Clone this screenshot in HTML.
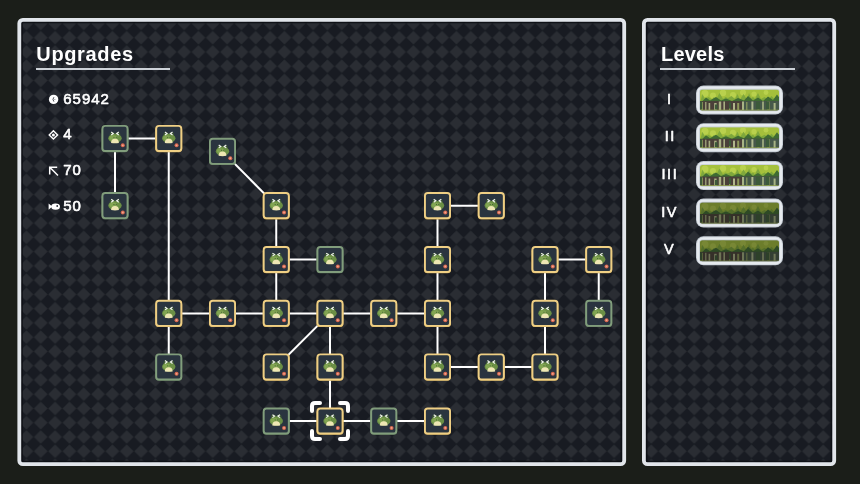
<!DOCTYPE html>
<html><head><meta charset="utf-8"><title>Upgrades</title>
<style>
html,body{margin:0;padding:0;background:#1b1e19;}
body{width:860px;height:484px;overflow:hidden;font-family:"Liberation Sans",sans-serif;}
svg{display:block;will-change:transform;transform:translateZ(0);}
text{font-family:"Liberation Sans",sans-serif;font-weight:normal;fill:#fff;stroke:#fff;stroke-width:0.6px;stroke-linejoin:round;}
</style></head><body>
<svg width="860" height="484" viewBox="0 0 860 484">
<defs>
<pattern id="chk" width="14.3333" height="14.2600" patternUnits="userSpaceOnUse" x="4.933" y="2.070">
<rect width="14.3333" height="14.2600" fill="#181b22"/>
<polygon points="7.1667,0.8556 13.4733,7.1300 7.1667,13.4044 0.8600,7.1300" fill="#2a2d33" stroke="#2a2d33" stroke-width="0.8" stroke-linejoin="round"/>
</pattern>
<pattern id="chk2" width="14.3333" height="14.2600" patternUnits="userSpaceOnUse" x="-0.967" y="2.070">
<rect width="14.3333" height="14.2600" fill="#181b22"/>
<polygon points="7.1667,0.8556 13.4733,7.1300 7.1667,13.4044 0.8600,7.1300" fill="#2a2d33" stroke="#2a2d33" stroke-width="0.8" stroke-linejoin="round"/>
</pattern>
<g id="frog">
<ellipse cx="-2.8" cy="-3.9" rx="2.5" ry="2.6" fill="#3a5233"/>
<ellipse cx="2.8" cy="-3.9" rx="2.5" ry="2.6" fill="#3a5233"/>
<ellipse cx="0" cy="-0.2" rx="6.7" ry="4.6" fill="#6b8f45"/>
<ellipse cx="-1.8" cy="-0.6" rx="3.8" ry="2.6" fill="#82a552"/>
<path d="M-3.9,4.4 Q-3.9,0.2 0,0.2 Q3.9,0.2 3.9,4.4 Q0,5.1 -3.9,4.4Z" fill="#eee7b4"/>
<path d="M-3.8,-6.4 L-1.7,-5 L-3.8,-3.5" fill="none" stroke="#f2f4f0" stroke-width="1.15"/>
<path d="M3.8,-6.4 L1.7,-5 L3.8,-3.5" fill="none" stroke="#f2f4f0" stroke-width="1.15"/>
<rect x="-1.5" y="-1.6" width="0.9" height="0.9" fill="#3c5632"/>
<rect x="0.8" y="-1.6" width="0.9" height="0.9" fill="#3c5632"/>
</g>
<g id="ng">
<rect x="-13.5" y="-12" width="27" height="25.7" rx="3.6" fill="#5d775a"/>
<rect x="-12.55" y="-12.65" width="25.1" height="25.1" rx="2.8" fill="#2a343f" stroke="#819d7c" stroke-width="1.9"/>
<use href="#frog"/>
<circle cx="7.8" cy="6.8" r="2" fill="#d96850"/><circle cx="7.8" cy="6.8" r="0.9" fill="#f2a890"/>
</g>
<g id="no">
<rect x="-13.5" y="-12" width="27" height="25.7" rx="3.6" fill="#c4a152"/>
<rect x="-12.55" y="-12.65" width="25.1" height="25.1" rx="2.8" fill="#2a343f" stroke="#efcf84" stroke-width="1.9"/>
<use href="#frog"/>
<circle cx="7.8" cy="6.8" r="2" fill="#d96850"/><circle cx="7.8" cy="6.8" r="0.9" fill="#f2a890"/>
</g>
<clipPath id="tc"><rect x="4" y="4" width="79" height="21" rx="2.5"/></clipPath>
<g id="thumb">
<rect x="0" y="0" width="87" height="29" rx="7.5" fill="#c3cad2"/>
<rect x="0.9" y="0.9" width="85.2" height="27.2" rx="6.6" fill="#e6eaee"/>
<rect x="3.2" y="3.2" width="80.6" height="22.6" rx="3.2" fill="#c5ccd4"/>
<g clip-path="url(#tc)">
<rect x="4" y="4" width="79" height="21" fill="#a5c03c"/>
<g fill="#b9d14d">
<circle cx="9" cy="8" r="3.5"/><circle cx="17" cy="10" r="3"/><circle cx="27" cy="7.5" r="3.2"/><circle cx="37" cy="9.5" r="3"/><circle cx="47" cy="7" r="3"/><circle cx="58" cy="8.5" r="2.6"/><circle cx="70" cy="7" r="2.4"/>
</g>
<path d="M4,17 L6.5,8.5 L9.0,13.5 L12.5,11.5 L16.0,14 L18.0,11.5 L20.0,14 L23.5,7.5 L27.0,13.5 L29.5,11.5 L32.0,12.5 L35.5,10.5 L39.0,13.5 L41.5,8.5 L44.0,14 L47.5,8.5 L51.0,14 L53.0,7.5 L55.0,12.5 L57.0,11.5 L59.0,13.5 L62.0,7.5 L65.0,13.5 L68.5,11.5 L72.0,14 L75.5,10.5 L79.0,14 L82.5,11.5 L86.0,12.5 L84,17Z" fill="#7fa83c"/>
<path d="M4,18 L10,12 L14,15 L20,11.5 L25,15 L30,13 L36,15.5 L42,12.5 L48,15 L52,10.5 L57,15 L62,12 L67,15.5 L72,11 L77,14.5 L81,9 L84,13 L84,18Z" fill="#3f6b33"/>
<rect x="4" y="15.6" width="79" height="9.4" fill="#4a4039"/>
<rect x="46" y="15.6" width="37" height="9.4" fill="#46584a"/>
<g opacity="0.85"><rect x="5.0" y="16.5" width="2.0" height="8.5" fill="#9aa862"/><rect x="9.2" y="16.5" width="1.2" height="8.5" fill="#b9c490"/><rect x="12.6" y="17.5" width="1.6" height="7.5" fill="#b9c490"/><rect x="18.2" y="17.5" width="2.4" height="7.5" fill="#b9c490"/><rect x="22.8" y="16.0" width="2.4" height="9" fill="#b9c490"/><rect x="27.4" y="16.0" width="1.6" height="9" fill="#b9c490"/><rect x="33.0" y="17.5" width="1.2" height="7.5" fill="#9aa862"/><rect x="37.0" y="17.5" width="2.0" height="7.5" fill="#c3cc9c"/><rect x="41.2" y="17.5" width="2.0" height="7.5" fill="#9aa862"/><rect x="46.0" y="16.0" width="2.0" height="9" fill="#b9c490"/><rect x="50.2" y="16.5" width="1.2" height="8.5" fill="#9aa862"/><rect x="55.4" y="16.0" width="2.0" height="9" fill="#c3cc9c"/><rect x="61.4" y="17.5" width="2.0" height="7.5" fill="#869852"/><rect x="66.2" y="16.0" width="1.6" height="9" fill="#b9c490"/><rect x="71.2" y="16.0" width="2.4" height="9" fill="#869852"/><rect x="77.6" y="17.5" width="2.0" height="7.5" fill="#b9c490"/></g>
<g fill="#3c5a3a"><rect x="4" y="16" width="2.2" height="8"/><rect x="19" y="19" width="2.5" height="5"/><rect x="33" y="17" width="2" height="6"/><rect x="60" y="16" width="4" height="8"/><rect x="70" y="16" width="3" height="8"/></g>
<rect x="4" y="24.2" width="79" height="0.8" fill="#8fa04e"/>
</g>
</g>
</defs>

<!-- panels -->
<rect x="19.3" y="19.8" width="604.9" height="444.4" rx="3.5" fill="url(#chk)"/>
<rect x="22" y="22.5" width="599.5" height="439" rx="1.5" fill="none" stroke="#0c0e13" stroke-width="1.6" opacity="0.85"/>
<rect x="19.3" y="19.8" width="604.9" height="444.4" rx="3.5" fill="none" stroke="#e1e5ea" stroke-width="3.8"/>
<rect x="643.9" y="19.8" width="190.3" height="444.4" rx="3.5" fill="url(#chk2)"/>
<rect x="646.6" y="22.5" width="184.9" height="439" rx="1.5" fill="none" stroke="#0c0e13" stroke-width="1.6" opacity="0.85"/>
<rect x="643.9" y="19.8" width="190.3" height="444.4" rx="3.5" fill="none" stroke="#e1e5ea" stroke-width="3.8"/>

<!-- titles -->
<text x="36.3" y="60.7" font-size="20" letter-spacing="0.65" style="font-weight:bold;stroke:none">Upgrades</text>
<rect x="36" y="68" width="134" height="2" fill="#cdd2d8"/>
<text x="661" y="60.7" font-size="20" letter-spacing="0.2" style="font-weight:bold;stroke:none">Levels</text>
<rect x="660" y="68" width="135" height="2" fill="#cdd2d8"/>

<!-- stats -->
<g font-size="15" letter-spacing="0.95">
<text x="63.3" y="103.5">65942</text>
<text x="63.3" y="139.4">4</text>
<text x="63.3" y="175.2">70</text>
<text x="63.3" y="211">50</text>
</g>
<!-- coin -->
<circle cx="53.6" cy="99.4" r="4.7" fill="#fff"/>
<path d="M53.9,97.2 Q52,99.4 53.9,101.6" fill="none" stroke="#3a3d44" stroke-width="0.9"/><circle cx="54.9" cy="99.4" r="0.5" fill="#6a6d74"/>
<!-- diamond -->
<path d="M53.4,130.7 L57.6,134.9 L53.4,139.1 L49.2,134.9Z" fill="none" stroke="#fff" stroke-width="1.4"/>
<circle cx="53.4" cy="134.9" r="1.5" fill="#fff"/>
<!-- arrow -->
<path d="M49.7,174.6 L49.7,167.2 L57.2,167.2 M50,167.5 L58,175.5" fill="none" stroke="#fff" stroke-width="1.5"/>
<!-- fish -->
<path d="M48.6,203.4 L52.2,206.6 L48.6,209.8Z" fill="#fff"/>
<ellipse cx="55.6" cy="206.6" rx="4.4" ry="3.2" fill="#fff"/>
<circle cx="57.2" cy="206" r="0.9" fill="#2a2d34"/>

<!-- edges -->
<g stroke="#fff" stroke-width="2" stroke-linecap="butt">
<line x1="115.0" y1="138.5" x2="168.75" y2="138.5"/>
<line x1="115.0" y1="138.5" x2="115.0" y2="205.7"/>
<line x1="168.75" y1="138.5" x2="168.75" y2="313.4"/>
<line x1="222.5" y1="151.4" x2="276.25" y2="205.7"/>
<line x1="276.25" y1="205.7" x2="276.25" y2="259.6"/>
<line x1="276.25" y1="259.6" x2="330.0" y2="259.6"/>
<line x1="276.25" y1="259.6" x2="276.25" y2="313.4"/>
<line x1="437.5" y1="205.7" x2="491.25" y2="205.7"/>
<line x1="437.5" y1="205.7" x2="437.5" y2="259.6"/>
<line x1="437.5" y1="259.6" x2="437.5" y2="313.4"/>
<line x1="545.0" y1="259.6" x2="598.75" y2="259.6"/>
<line x1="545.0" y1="259.6" x2="545.0" y2="313.4"/>
<line x1="598.75" y1="259.6" x2="598.75" y2="313.4"/>
<line x1="168.75" y1="313.4" x2="437.5" y2="313.4"/>
<line x1="168.75" y1="313.4" x2="168.75" y2="367.0"/>
<line x1="330.0" y1="313.4" x2="276.25" y2="367.0"/>
<line x1="330.0" y1="313.4" x2="330.0" y2="367.0"/>
<line x1="330.0" y1="367.0" x2="330.0" y2="421.1"/>
<line x1="437.5" y1="313.4" x2="437.5" y2="367.0"/>
<line x1="437.5" y1="367.0" x2="545.0" y2="367.0"/>
<line x1="545.0" y1="313.4" x2="545.0" y2="367.0"/>
<line x1="276.25" y1="421.1" x2="437.5" y2="421.1"/>
</g>
<!-- selection brackets -->
<g fill="none" stroke="#fff" stroke-width="4" stroke-linecap="round" stroke-linejoin="round" transform="translate(330.0,420.90000000000003)">
<path d="M-18,-10 L-18,-15 Q-18,-18 -15,-18 L-10,-18"/>
<path d="M18,-10 L18,-15 Q18,-18 15,-18 L10,-18"/>
<path d="M-18,10 L-18,15 Q-18,18 -15,18 L-10,18"/>
<path d="M18,10 L18,15 Q18,18 15,18 L10,18"/>
</g>
<!-- nodes -->
<use href="#ng" x="115.0" y="138.5"/>
<use href="#no" x="168.75" y="138.5"/>
<use href="#ng" x="222.5" y="151.4"/>
<use href="#ng" x="115.0" y="205.7"/>
<use href="#no" x="276.25" y="205.7"/>
<use href="#no" x="437.5" y="205.7"/>
<use href="#no" x="491.25" y="205.7"/>
<use href="#no" x="276.25" y="259.6"/>
<use href="#ng" x="330.0" y="259.6"/>
<use href="#no" x="437.5" y="259.6"/>
<use href="#no" x="545.0" y="259.6"/>
<use href="#no" x="598.75" y="259.6"/>
<use href="#no" x="168.75" y="313.4"/>
<use href="#no" x="222.5" y="313.4"/>
<use href="#no" x="276.25" y="313.4"/>
<use href="#no" x="330.0" y="313.4"/>
<use href="#no" x="383.75" y="313.4"/>
<use href="#no" x="437.5" y="313.4"/>
<use href="#no" x="545.0" y="313.4"/>
<use href="#ng" x="598.75" y="313.4"/>
<use href="#ng" x="168.75" y="367.0"/>
<use href="#no" x="276.25" y="367.0"/>
<use href="#no" x="330.0" y="367.0"/>
<use href="#no" x="437.5" y="367.0"/>
<use href="#no" x="491.25" y="367.0"/>
<use href="#no" x="545.0" y="367.0"/>
<use href="#ng" x="276.25" y="421.1"/>
<use href="#no" x="330.0" y="421.1"/>
<use href="#ng" x="383.75" y="421.1"/>
<use href="#no" x="437.5" y="421.1"/>

<!-- levels -->
<g font-size="14.5" letter-spacing="1.5" text-anchor="middle" style="font-weight:bold;stroke:none">
<text x="669.8" y="103.6">I</text>
<text x="670.3" y="141.2">II</text>
<text x="669.9" y="178.9">III</text>
<text x="669.5" y="216.6">IV</text>
<text x="669.5" y="254.2">V</text>
</g>
<use href="#thumb" x="696" y="85.5"/>
<use href="#thumb" x="696" y="123.2"/>
<use href="#thumb" x="696" y="161"/>
<use href="#thumb" x="696" y="198.5"/><rect x="700" y="202.5" width="79" height="21" rx="2.5" fill="#161a12" opacity="0.40"/>
<use href="#thumb" x="696" y="236.3"/><rect x="700" y="240.3" width="79" height="21" rx="2.5" fill="#161a12" opacity="0.40"/>
</svg>
</body></html>
